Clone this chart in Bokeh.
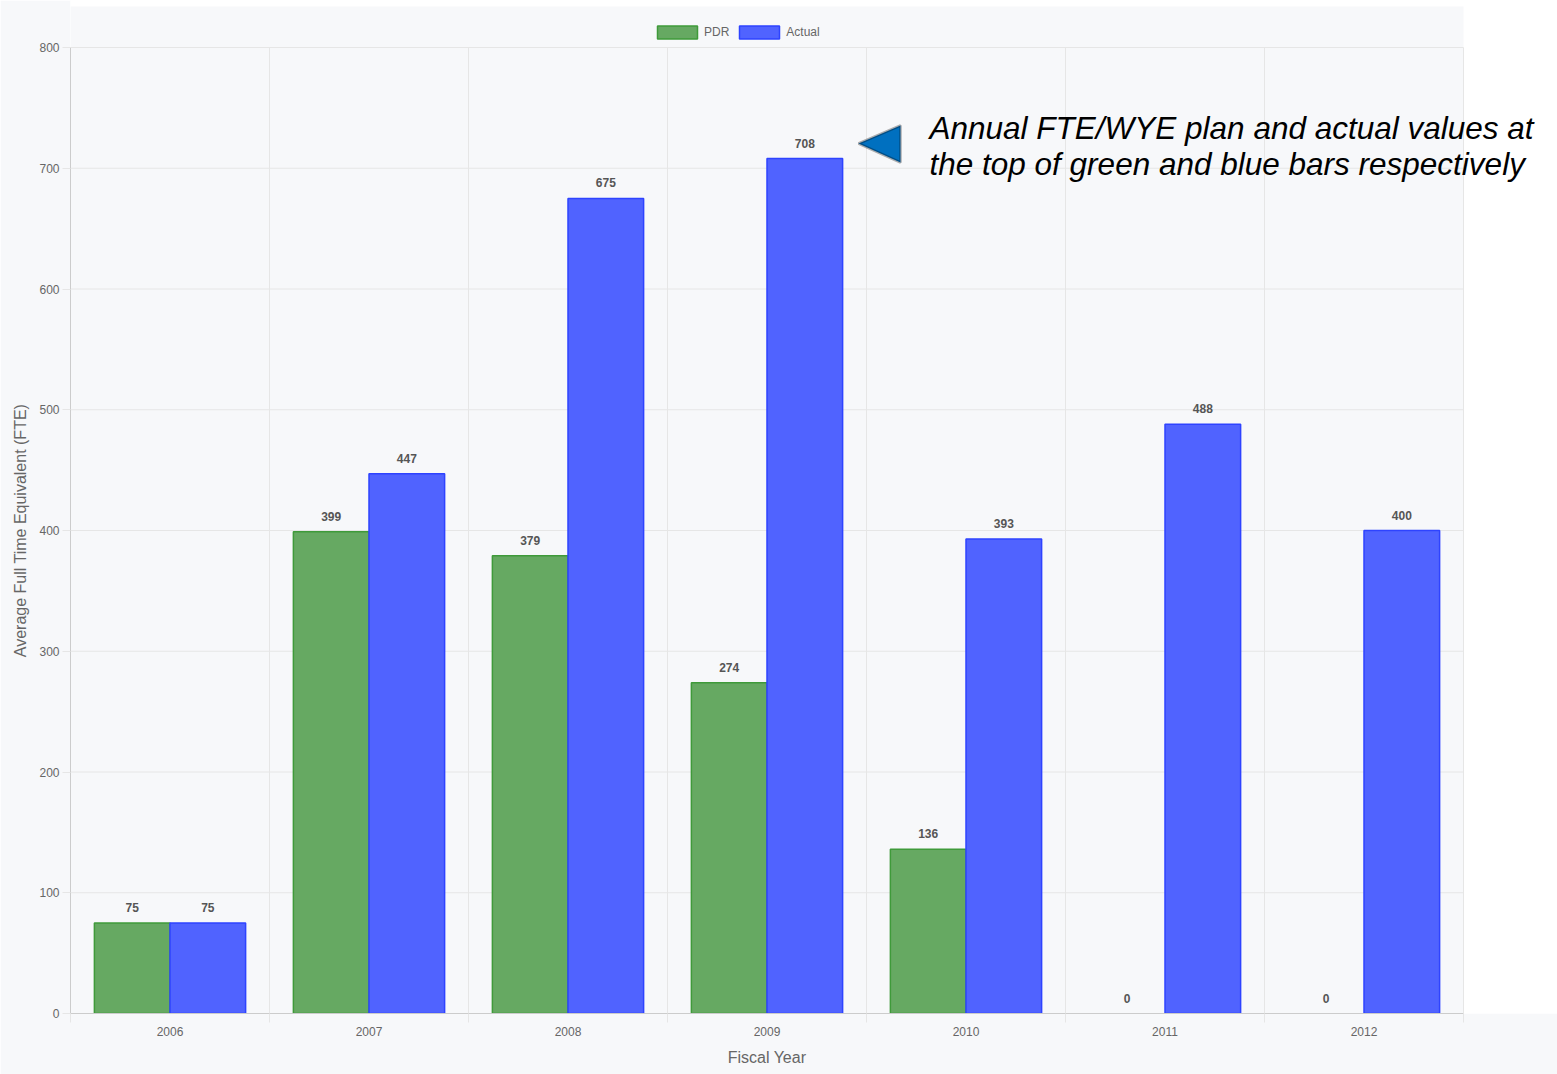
import math
from bokeh.plotting import figure
from bokeh.models import (Range1d, LinearAxis, FixedTicker, ColumnDataSource, Legend,
                          LegendItem, BoxAnnotation, PolyAnnotation, Label)
from bokeh.core.properties import value
from bokeh.transform import dodge
from bokeh.embed import file_html
from bokeh.resources import INLINE

# ---- data ----
years = ["2006", "2007", "2008", "2009", "2010", "2011", "2012"]
pdr = [75, 399, 379, 274, 136, 0, 0]
actual = [75, 447, 675, 708, 393, 488, 400]
series_names = ["PDR", "Actual"]
y_ticks = [0, 100, 200, 300, 400, 500, 600, 700, 800]
x_title = "Fiscal Year"
y_title = "Average Full Time Equivalent (FTE)"
note_lines = ["Annual FTE/WYE plan and actual values at",
              "the top of green and blue bars respectively"]

# ---- styles ----
BG = "#f7f8fa"
GRID = "#e6e6e6"
AXIS = "#cccccc"
TXT = "#666666"
FONT = "Liberation Sans"
GREEN_FILL, GREEN_LINE = "#66a962", "#3f9a3a"
BLUE_FILL, BLUE_LINE = "#5063ff", "#2e43ff"

n = len(years)
YMAX = y_ticks[-1]
centers = [i + 0.5 for i in range(n)]   # category slot centres

# geometry (pixels): chart area 70..1463 x 47..1013; frame widened (top & right) for legend/note
W, H = 1557, 1074
FX0, FX1, FY0, FY1 = 70, 1463, 1013, 47
SX = n / (FX1 - FX0)
SY = YMAX / (FY0 - FY1)
def dx(px): return (px - FX0) * SX
def dy(py): return (FY0 - py) * SY

src = ColumnDataSource(dict(
    xc=centers, year=years, pdr=pdr, actual=actual,
    pdr_txt=[str(v) for v in pdr], act_txt=[str(v) for v in actual],
    pdr_la=[1.0 if v > 0 else 0.0 for v in pdr],
    act_la=[1.0 if v > 0 else 0.0 for v in actual]))

p = figure(width=W, height=H, output_backend="svg", toolbar_location=None,
           x_range=Range1d(0, dx(W)), y_range=Range1d(0, dy(0)),
           x_axis_location=None,
           min_border_left=FX0, min_border_right=0, min_border_top=0,
           min_border_bottom=H - FY0)
p.background_fill_color = "white"
p.border_fill_color = BG
p.outline_line_color = None
p.xgrid.visible = False
p.ygrid.visible = False

# grey chart panel inside the (widened) frame
panel = BoxAnnotation(left=0, right=n, top=dy(6), bottom=0,
                      fill_color=BG, fill_alpha=1, line_color=None, level="image")
p.add_layout(panel)

# grid lines limited to the chart area
p.segment(x0=0, x1=n, y0=y_ticks, y1=y_ticks, line_color=GRID, line_width=1)
p.segment(x0=list(range(n + 1)), x1=list(range(n + 1)), y0=0, y1=YMAX,
          line_color=GRID, line_width=1)

# y axis
ya = p.yaxis[0]
ya.bounds = (0, YMAX)
ya.ticker = FixedTicker(ticks=y_ticks)
ya.major_tick_in = 0
ya.major_tick_out = 8
ya.major_tick_line_color = GRID
ya.minor_tick_line_color = None
ya.axis_line_color = AXIS
ya.major_label_text_font = FONT
ya.major_label_text_font_size = "12px"
ya.major_label_text_color = TXT
ya.major_label_standoff = 3
# y title centred on the chart area (side-panel annotations are not clipped)
p.add_layout(Label(x=dx(20), y=dy(530), text=y_title, text_font=FONT,
                   text_font_size="16px", text_color=TXT, text_align="center",
                   text_baseline="middle", angle=math.pi / 2), "left")

# x axes: tick marks at category boundaries, labels at centres
tick_axis = LinearAxis(ticker=FixedTicker(ticks=list(range(n + 1))), bounds=(0, n),
                       major_tick_in=0, major_tick_out=9, major_tick_line_color=GRID,
                       minor_tick_line_color=None, axis_line_color=AXIS,
                       major_label_overrides={i: "" for i in range(n + 1)},
                       major_label_text_font_size="0px", major_label_standoff=0)
cat_axis = LinearAxis(ticker=FixedTicker(ticks=centers), bounds=(0, n),
                      major_label_overrides={c: y for c, y in zip(centers, years)},
                      major_tick_line_color=None, minor_tick_line_color=None,
                      axis_line_color=None, major_label_standoff=-2,
                      major_label_text_font=FONT, major_label_text_font_size="12px",
                      major_label_text_color=TXT)
p.add_layout(tick_axis, "below")
p.add_layout(cat_axis, "below")
p.add_layout(Label(x=n / 2, y=dy(1057), text=x_title, text_font=FONT,
                   text_font_size="16px", text_color=TXT, text_align="center",
                   text_baseline="middle"), "below")

# bars
r1 = p.vbar(x=dodge("xc", -0.19), top="pdr", width=0.38, source=src,
            fill_color=GREEN_FILL, line_color=GREEN_LINE, line_alpha="pdr_la", line_width=1.5)
r2 = p.vbar(x=dodge("xc", 0.19), top="actual", width=0.38, source=src,
            fill_color=BLUE_FILL, line_color=BLUE_LINE, line_alpha="act_la", line_width=1.5)

# value labels
for col, txt, off in [("pdr", "pdr_txt", -0.19), ("actual", "act_txt", 0.19)]:
    p.text(x=dodge("xc", off), y=col, text=txt, source=src,
           text_align="center", text_baseline="alphabetic", y_offset=-15.5,
           text_font=value(FONT), text_font_size="12px", text_font_style="bold",
           text_color="#555555")

# legend
legend = Legend(items=[LegendItem(label=series_names[0], renderers=[r1]),
                       LegendItem(label=series_names[1], renderers=[r2])],
                orientation="horizontal", location=(652 - FX0, FY0 - 40),
                glyph_width=50, glyph_height=16, label_height=16, label_standoff=2,
                spacing=5, padding=0, margin=0, border_line_color=None,
                background_fill_alpha=0, label_text_font=FONT, label_text_font_size="12px",
                label_text_color=TXT)
p.add_layout(legend, "center")

# annotation arrow + text
tri = PolyAnnotation(xs=[dx(858), dx(900), dx(900)], ys=[dy(143), dy(125), dy(162)],
                     fill_color="#0070c0", fill_alpha=1, line_color="black", line_width=2.5)
p.add_layout(tri)
for i, line in enumerate(note_lines):
    p.add_layout(Label(x=dx(929), y=dy(127 + 36 * i), text=line, text_font=FONT,
                       text_font_size="31.5px", text_font_style="italic", text_color="black",
                       text_baseline="alphabetic", text_align="left"))

open("out.html", "w").write(file_html(p, INLINE))
